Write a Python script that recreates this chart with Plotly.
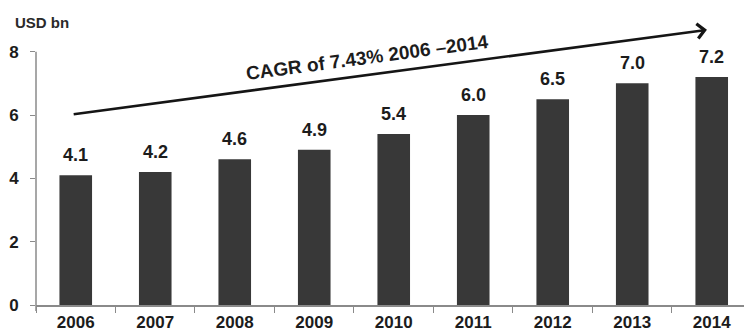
import plotly.graph_objects as go

# Market size by year, USD bn
years = ["2006", "2007", "2008", "2009", "2010", "2011", "2012", "2013", "2014"]
values = [4.1, 4.2, 4.6, 4.9, 5.4, 6.0, 6.5, 7.0, 7.2]
value_labels = ["4.1", "4.2", "4.6", "4.9", "5.4", "6.0", "6.5", "7.0", "7.2"]
y_ticks = [0, 2, 4, 6, 8]
y_top = 9
cagr_text = "CAGR of 7.43% 2006 \u20132014"

FONT = "Liberation Sans, Arial, sans-serif"
INK = "#1c1c1c"
AXIS = "#8a8a8a"
M_TOP, M_BOTTOM = 20, 28
PLOT_H = 333 - M_TOP - M_BOTTOM

fig = go.Figure()
fig.add_trace(go.Bar(
    x=years,
    y=values,
    width=0.41,
    marker=dict(color="#383838", line=dict(width=0)),
    hoverinfo="skip",
))

annotations = []
# value labels above each bar (category index positions)
for i, (v, lab) in enumerate(zip(values, value_labels)):
    annotations.append(dict(
        x=i, y=v, xref="x", yref="y", text="<b>%s</b>" % lab,
        showarrow=False, yanchor="middle", yshift=20,
        font=dict(family=FONT, size=18, color=INK),
    ))

# growth arrow across the bars
annotations.append(dict(
    x=7.94, y=8.69, ax=-0.045, ay=6.02,
    xref="x", yref="y", axref="x", ayref="y",
    text="", showarrow=True, arrowhead=4, arrowsize=1.1,
    arrowwidth=2.6, arrowcolor="#151515", standoff=0,
))
annotations.append(dict(
    x=3.66, y=7.82, xref="x", yref="y",
    text="<b>%s</b>" % cagr_text, showarrow=False, textangle=-7.6,
    font=dict(family=FONT, size=19, color=INK),
))

# unit label, top-left corner
annotations.append(dict(
    x=-23 / 708, y=1.0, xref="paper", yref="paper", yshift=-2,
    text="<b>USD bn</b>", showarrow=False, xanchor="left", yanchor="middle",
    font=dict(family=FONT, size=15, color="#2a2a2a"),
))

fig.update_layout(
    template="none",
    width=744, height=333,
    margin=dict(l=36, r=0, t=M_TOP, b=M_BOTTOM),
    paper_bgcolor="white", plot_bgcolor="white",
    showlegend=False,
    annotations=annotations,
    # value axis line, running from just below the baseline up to the top tick
    shapes=[dict(
        type="line", xref="paper", yref="paper", x0=0, x1=0,
        y0=-6 / PLOT_H, y1=y_ticks[-1] / y_top,
        line=dict(color=AXIS, width=1.5),
    )],
    xaxis=dict(
        type="category", range=[-0.5, 8.406], fixedrange=True, automargin=False,
        tickvals=years, ticktext=["<b>%s</b>" % y for y in years],
        showline=True, linecolor=AXIS, linewidth=1.5,
        showgrid=False, zeroline=False,
        ticks="outside", tickson="boundaries", ticklen=6, tickwidth=1,
        tickcolor=AXIS, ticklabelstandoff=1,
        tickfont=dict(family=FONT, size=17, color=INK),
    ),
    yaxis=dict(
        range=[0, y_top], automargin=False, fixedrange=True,
        tickvals=y_ticks, ticktext=["<b>%d</b>" % t for t in y_ticks],
        showline=False, showgrid=False, zeroline=False,
        ticks="outside", ticklen=5, tickwidth=1, tickcolor=AXIS,
        ticklabelstandoff=8,
        tickfont=dict(family=FONT, size=17, color=INK),
    ),
)

fig.write_html("out.html")
